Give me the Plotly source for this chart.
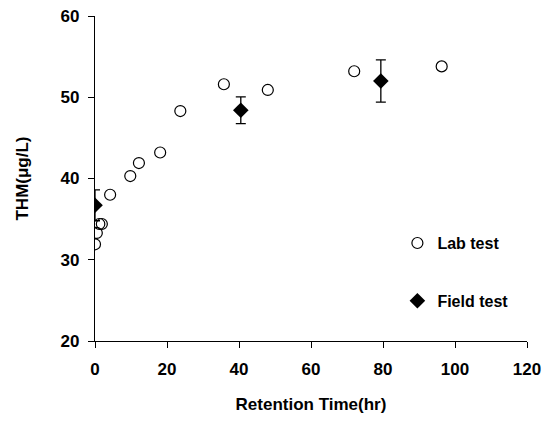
import plotly.graph_objects as go

# Lab test (retention time hr, THM ug/L)
lab_time = [0.0, 0.5, 1.2, 1.9, 4.2, 9.8, 12.2, 18.1, 23.7, 35.8, 48.0, 72.0, 96.3]
lab_thm = [31.9, 33.3, 34.4, 34.4, 38.0, 40.3, 41.9, 43.2, 48.3, 51.6, 50.9, 53.2, 53.8]

# Field test with error bars
field_time = [0.0, 40.5, 79.4]
field_thm = [36.7, 48.4, 52.0]
field_err = [1.9, 1.65, 2.6]

font_main = "Liberation Sans, Arial, sans-serif"

fig = go.Figure()
fig.add_trace(go.Scatter(
    x=lab_time, y=lab_thm, mode="markers", name="Lab test",
    legendgroup="lab",
    marker=dict(symbol="circle-open", size=11, color="black", line=dict(width=1.2)),
))
fig.add_trace(go.Scatter(
    x=field_time, y=field_thm, mode="markers", name="Field test",
    legendgroup="field",
    marker=dict(symbol="diamond", size=12, color="black"),
    error_y=dict(type="data", array=field_err, color="black", thickness=1.3, width=5),
))

axis_common = dict(
    showline=True, linecolor="black", linewidth=1.2,
    ticks="outside", tickcolor="black", ticklen=6, tickwidth=1.2,
    showgrid=False, zeroline=False, automargin=False,
    ticklabeloverflow="allow",
    tickfont=dict(family=font_main, size=17, color="black", weight="bold"),
)

# page body adds ~8px offset, margins compensate
fig.update_layout(
    width=551, height=423,
    margin=dict(l=87, r=32, t=8, b=90),
    paper_bgcolor="white", plot_bgcolor="white",
    font=dict(family=font_main, color="black"),
    xaxis=dict(range=[0, 120], tickvals=[0, 20, 40, 60, 80, 100, 120],
               ticklabelstandoff=6,
               title=dict(text="Retention Time(hr)", standoff=20,
                          font=dict(size=17, weight="bold")),
               **axis_common),
    yaxis=dict(range=[20, 60], tickvals=[20, 30, 40, 50, 60],
               ticklabelstandoff=5,
               title=dict(text="THM(μg/L)", standoff=27,
                          font=dict(size=17, weight="bold")),
               **axis_common),
    legend=dict(x=0.70, y=0.212, xanchor="left", yanchor="middle",
                bgcolor="rgba(0,0,0,0)", tracegroupgap=34,
                font=dict(size=16, weight="bold")),
)

fig.write_html("out.html")
